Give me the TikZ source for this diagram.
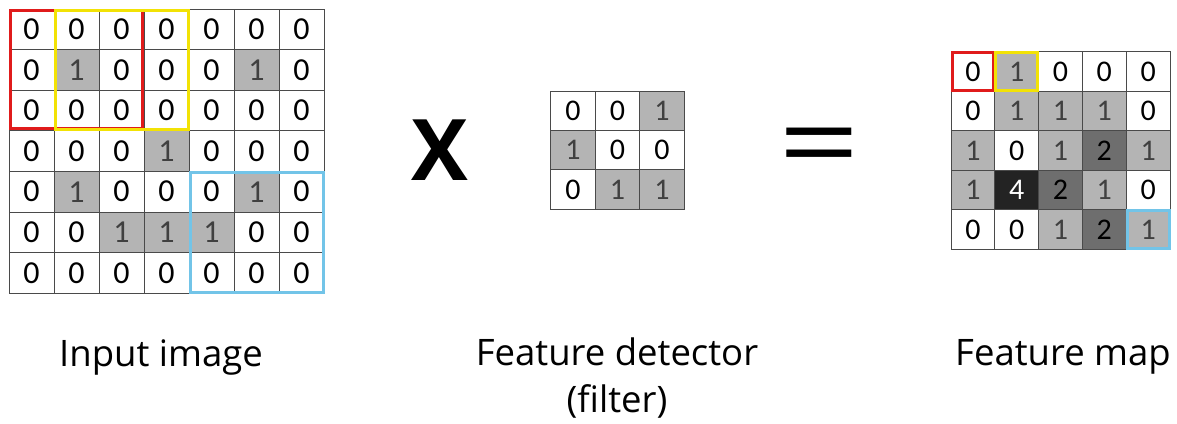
\documentclass[tikz,border=0pt]{standalone}
\usepackage{fontspec}
\setmainfont{Open Sans}
\newfontfamily\cellfont{Carlito}
\definecolor{lightcell}{HTML}{B4B4B4}
\definecolor{darkcell}{HTML}{6E6E6E}
\definecolor{blackcell}{HTML}{232323}
\definecolor{gridline}{HTML}{4A4A4A}
\definecolor{redbox}{HTML}{E01B1B}
\definecolor{yellowbox}{HTML}{F2E205}
\definecolor{bluebox}{HTML}{72C4E8}
\tikzset{
	cell/.style={draw=gridline, line width=1pt, inner sep=0pt},
	v0/.style={fill=white, text=black},
	v1/.style={fill=lightcell, text=black!75},
	v2/.style={fill=darkcell, text=black},
	v4/.style={fill=blackcell, text=white},
	imgcell/.style={cell, minimum width=45, minimum height=40.6, font=\cellfont\fontsize{32}{32}\selectfont},
	filtcell/.style={cell, minimum width=44.5, minimum height=39.4, font=\cellfont\fontsize{30}{30}\selectfont},
	mapcell/.style={cell, minimum width=43.8, minimum height=39.5, font=\cellfont\fontsize{30}{30}\selectfont},
	hilite/.style={line width=3pt},
	caption/.style={anchor=base, font=\fontsize{36.5}{36.5}\selectfont}
}
\begin{document}
\begin{tikzpicture}[x=1pt, y=-1pt]
		\useasboundingbox[fill=white] (0,0) rectangle (1177,423);
		\foreach \row [count=\r] in {{0,0,0,0,0,0,0},{0,1,0,0,0,1,0},{0,0,0,0,0,0,0},{0,0,0,1,0,0,0},{0,1,0,0,0,1,0},{0,0,1,1,1,0,0},{0,0,0,0,0,0,0}}
			\foreach \v [count=\c] in \row
				\node[imgcell, v\v] (img-\r-\c) at ({9+45*(\c-0.5)}, {9+40.6*(\r-0.5)}) {\v};
		\foreach \row [count=\r] in {{0,0,1},{1,0,0},{0,1,1}}
			\foreach \v [count=\c] in \row
				\node[filtcell, v\v] (filt-\r-\c) at ({550.7+44.5*(\c-0.5)}, {91+39.4*(\r-0.5)}) {\v};
		\foreach \row [count=\r] in {{0,1,0,0,0},{0,1,1,1,0},{1,0,1,2,1},{1,4,2,1,0},{0,0,1,2,1}}
			\foreach \v [count=\c] in \row
				\node[mapcell, v\v] (map-\r-\c) at ({951+43.8*(\c-0.5)}, {51.7+39.5*(\r-0.5)}) {\v};
		\draw[hilite, redbox] ([shift={(1.5,1.5)}]img-1-1.north west) rectangle ([shift={(-2,-3)}]img-3-3.south east);
		\draw[hilite, yellowbox] ([shift={(1.5,1.5)}]img-1-2.north west) rectangle ([shift={(-1.5,-1.5)}]img-3-4.south east);
		\draw[hilite, bluebox] ([shift={(1.5,1.5)}]img-5-5.north west) rectangle ([shift={(-1.5,-1.5)}]img-7-7.south east);
		\draw[hilite, redbox] ([shift={(1.5,1.5)}]map-1-1.north west) rectangle ([shift={(-1.5,-1.5)}]map-1-1.south east);
		\draw[hilite, yellowbox] ([shift={(1.5,1.5)}]map-1-2.north west) rectangle ([shift={(-1.5,-1.5)}]map-1-2.south east);
		\draw[hilite, bluebox] ([shift={(1.5,1.5)}]map-5-5.north west) rectangle ([shift={(-1.5,-1.5)}]map-5-5.south east);
		\node[font=\fontsize{85}{85}\selectfont\bfseries] (times) at (440,150) {X};
		\node[font=\fontsize{110}{110}\selectfont, xscale=1.3, transform shape] (equals) at (819,155) {=};
		\node[caption] (imglabel) at (161,366) {Input image};
		\node[caption] (filtlabel) at (617,365) {Feature detector};
		\node[caption] (filtlabel2) at (617,412) {(filter)};
		\node[caption] (maplabel) at (1063,365) {Feature map};
\end{tikzpicture}
\end{document}
